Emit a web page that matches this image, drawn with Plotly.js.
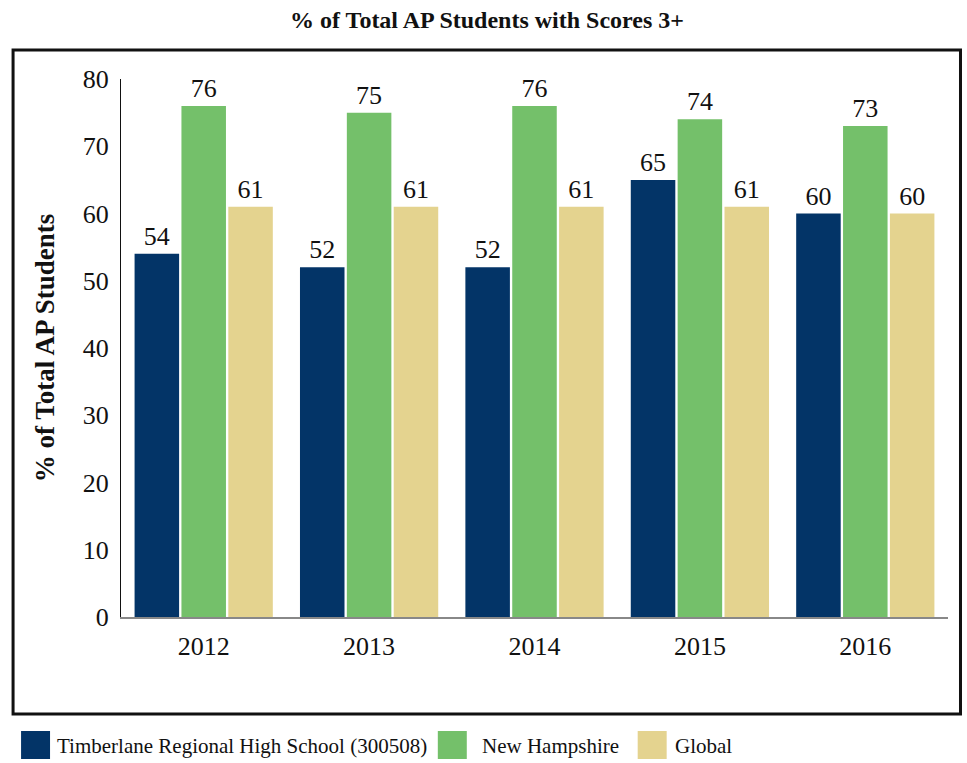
<!DOCTYPE html>
<html>
<head>
<meta charset="utf-8">
<script src="https://cdn.plot.ly/plotly-3.0.1.min.js"></script>
<style>html,body{margin:0;padding:0;background:#fff;}#chart{width:967px;height:763px;}</style>
</head>
<body>
<div id="chart"></div>
<script>
const years = ["2012", "2013", "2014", "2015", "2016"];
const seriesNames = ["Timberlane Regional High School (300508)", "New Hampshire", "Global"];
const timberlane = [54, 52, 52, 65, 60];
const newHampshire = [76, 75, 76, 74, 73];
const global = [61, 61, 61, 61, 60];
const colors = ["#033467", "#74C06A", "#E4D38F"];

const FONT = "'Liberation Serif', 'DejaVu Serif', serif";
const allValues = [timberlane, newHampshire, global];

const traces = allValues.map((vals, i) => ({
  type: "bar",
  name: seriesNames[i],
  x: years,
  y: vals,
  marker: {color: colors[i]},
  text: vals.map(String),
  textposition: "outside",
  textfont: {family: FONT, size: 26, color: "#111"},
  constraintext: "none",
  cliponaxis: false,
  showlegend: false,
  hoverinfo: "x+y+name"
}));

const L = 121, R = 948.5, T = 79, B = 617, W = 967, H = 763;
const pw = R - L, ph = B - T;
const px = v => (v - L) / pw;
const py = v => (B - v) / ph;

// legend (drawn as shapes + text, positions in pixels)
const legendSquareX = [21, 438, 638];
const legendTextX = [55, 480, 673];
const legendShapes = seriesNames.map((n, i) => ({
  type: "rect", xref: "paper", yref: "paper",
  x0: px(legendSquareX[i]), x1: px(legendSquareX[i] + 29),
  y0: py(759), y1: py(731),
  fillcolor: colors[i], line: {width: 0}
}));
const legendAnn = seriesNames.map((n, i) => ({
  xref: "paper", yref: "paper",
  x: px(legendTextX[i]), y: py(746),
  xanchor: "left", yanchor: "middle",
  text: n, showarrow: false,
  font: {family: FONT, size: 21, color: "#111"}
}));

const layout = {
  width: W, height: H,
  margin: {l: L, r: W - R, t: T, b: H - B, pad: 0},
  paper_bgcolor: "#fff",
  plot_bgcolor: "#fff",
  font: {family: FONT, color: "#111"},
  title: {
    text: "<b>% of Total AP Students with Scores 3+</b>",
    font: {family: FONT, size: 24, color: "#111"},
    x: 487 / W, xanchor: "center", xref: "container",
    y: 1 - 20 / H, yanchor: "middle"
  },
  barmode: "group",
  bargap: 0.15,
  bargroupgap: 0.05,
  xaxis: {
    type: "category",
    showline: true, linecolor: "#888", linewidth: 2,
    showgrid: false, zeroline: false,
    ticks: "", tickfont: {family: FONT, size: 26, color: "#111"},
    ticklabelstandoff: 5
  },
  yaxis: {
    range: [0, 80],
    dtick: 10,
    showline: true, linecolor: "#111", linewidth: 1,
    showgrid: false, zeroline: false,
    ticks: "", tickfont: {family: FONT, size: 26, color: "#111"},
    ticklabelstandoff: 6,
    title: {text: "<b>% of Total AP Students</b>", font: {family: FONT, size: 27, color: "#111"}, standoff: 20}
  },
  showlegend: false,
  annotations: legendAnn,
  shapes: [{
    type: "rect", xref: "paper", yref: "paper",
    x0: px(13), x1: px(961), y0: py(714), y1: py(50),
    line: {color: "#111", width: 3}, fillcolor: "rgba(0,0,0,0)", layer: "below"
  }].concat(legendShapes)
};

Plotly.newPlot("chart", traces, layout, {displayModeBar: false, staticPlot: true});
</script>
</body>
</html>
